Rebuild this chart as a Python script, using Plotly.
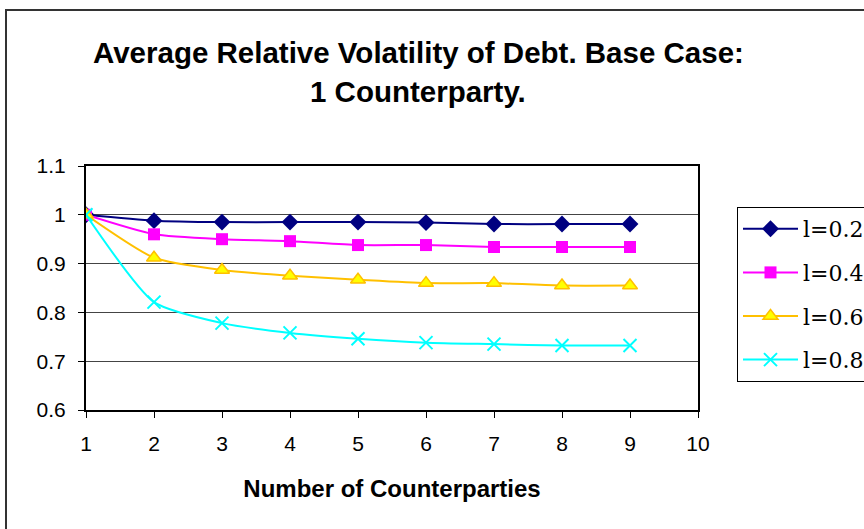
import plotly.graph_objects as go

# Number of counterparties on the horizontal axis
counterparties = [1, 2, 3, 4, 5, 6, 7, 8, 9]

# Average relative volatility of debt for each value of l
vol_l02 = [1.000, 0.988, 0.985, 0.985, 0.985, 0.984, 0.981, 0.981, 0.981]
vol_l04 = [1.000, 0.960, 0.950, 0.946, 0.938, 0.938, 0.934, 0.934, 0.934]
vol_l06 = [1.000, 0.912, 0.887, 0.875, 0.867, 0.860, 0.860, 0.855, 0.855]
vol_l08 = [1.000, 0.821, 0.778, 0.758, 0.746, 0.738, 0.735, 0.732, 0.732]

series_names = ["l=0.2", "l=0.4", "l=0.6", "l=0.8"]

W, H = 864, 529
L, R, T, B = 86, 698, 166, 410  # plot-area pixel edges
pw, ph = R - L, B - T

def px_x(x):
    return (x - L) / pw

def px_y(y):
    return (B - y) / ph

fig = go.Figure()

styles = [
    dict(line=dict(color="#000080", width=2),
         marker=dict(symbol="diamond", size=13, color="#000080")),
    dict(line=dict(color="#FF00FF", width=2),
         marker=dict(symbol="square", size=12, color="#FF00FF")),
    dict(line=dict(color="#FFC000", width=2),
         marker=dict(symbol="triangle-up", size=13, color="#FFFF00",
                     line=dict(color="#FFC000", width=1.5))),
    dict(line=dict(color="#00FFFF", width=2),
         marker=dict(symbol="x-thin-open", size=13, color="#00FFFF",
                     line=dict(color="#00FFFF", width=2))),
]

for i, (name, vals, st) in enumerate(zip(series_names,
                                        [vol_l02, vol_l04, vol_l06, vol_l08],
                                        styles)):
    fig.add_trace(go.Scatter(
        x=counterparties, y=vals, name=name, mode="lines+markers",
        line=dict(shape="spline", smoothing=0.6, **st["line"]),
        marker=st["marker"], legendgroup=f"g{i}",
    ))

# Outer chart border
fig.add_shape(type="rect", xref="paper", yref="paper",
              x0=px_x(6), x1=px_x(880), y0=px_y(540), y1=px_y(10),
              line=dict(color="#333333", width=2), layer="below")

title_font = dict(family="Liberation Sans, Arial", size=29.5, color="black")
fig.add_annotation(text="<b>Average Relative Volatility of Debt. Base Case:</b>",
                   xref="paper", yref="paper", x=px_x(418), y=px_y(52),
                   showarrow=False, font=title_font, xanchor="center", yanchor="middle")
fig.add_annotation(text="<b>1 Counterparty.</b>",
                   xref="paper", yref="paper", x=px_x(418), y=px_y(91),
                   showarrow=False, font=title_font, xanchor="center", yanchor="middle")

tick_font = dict(family="Liberation Sans, Arial", size=21, color="black")

fig.update_layout(
    width=W, height=H,
    margin=dict(l=L, r=W - R, t=T, b=H - B, pad=0),
    paper_bgcolor="white", plot_bgcolor="white",
    showlegend=True,
    legend=dict(xref="container", yref="container",
                x=737 / W, y=1 - 207 / H, xanchor="left", yanchor="top",
                bordercolor="black", borderwidth=1, bgcolor="white",
                font=dict(family="DejaVu Serif, Liberation Serif", size=22, color="black"),
                tracegroupgap=12, itemwidth=55),
    xaxis=dict(range=[1, 10], dtick=1, tick0=1, showgrid=False,
               showline=True, linecolor="black", linewidth=2, mirror=True,
               ticks="outside", ticklen=6, tickcolor="black",
               tickfont=tick_font, zeroline=False, ticklabelstandoff=8,
               title=dict(text="<b>Number of Counterparties</b>",
                          font=dict(family="Liberation Sans, Arial", size=24, color="black"),
                          standoff=26)),
    yaxis=dict(range=[0.6, 1.1], dtick=0.1, tick0=0.6, showgrid=True,
               gridcolor="#444444", gridwidth=1,
               showline=True, linecolor="black", linewidth=2, mirror=True,
               ticks="outside", ticklen=6, tickcolor="black",
               tickfont=tick_font, zeroline=False, ticklabelstandoff=8),
)

fig.write_html("out.html")
